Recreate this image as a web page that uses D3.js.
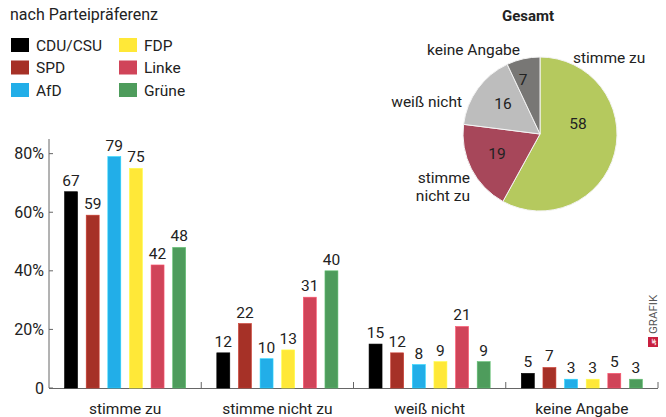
<!DOCTYPE html>
<html><head><meta charset="utf-8">
<script src="https://cdn.jsdelivr.net/npm/d3@7"></script>
<style>body{margin:0;background:#fff}svg{display:block}text{font-family:Roboto,"Liberation Sans",sans-serif}</style>
</head><body><svg id="c" width="666" height="417"></svg>
<script>
const categories = ["stimme zu","stimme nicht zu","weiß nicht","keine Angabe"];
const parties = ["CDU/CSU","SPD","AfD","FDP","Linke","Grüne"];
const partyColors = ["#000000","#a63127","#22aee8","#ffe838","#d04459","#4e9c5c"];
const cduValues = [67,12,15,5];
const spdValues = [59,22,12,7];
const afdValues = [79,10,8,3];
const fdpValues = [75,13,9,3];
const linkeValues = [42,31,21,5];
const grueneValues = [48,40,9,3];
const yTicks = [0,20,40,60,80];
const pieLabels = ["stimme zu","stimme nicht zu","weiß nicht","keine Angabe"];
const pieValues = [58,19,16,7];
const pieColors = ["#b5c95e","#a7475a","#bdbdbd","#787775"];

const series = [cduValues,spdValues,afdValues,fdpValues,linkeValues,grueneValues];
const svg = d3.select("#c");
const x0 = d3.scaleBand().domain(categories).range([49,658]);
const x1 = d3.scaleBand().domain(parties).range([0,x0.bandwidth()]).paddingInner(0.4).paddingOuter(0.72);
const y = d3.scaleLinear().domain([0,85]).range([388,139]);

// y axis
const ya = svg.append("g").attr("transform","translate(49,0)");
ya.append("line").attr("y1",y(85)).attr("y2",y(0)).attr("stroke","#666").attr("stroke-width",1);
yTicks.forEach(t=>{
  ya.append("line").attr("x1",0).attr("x2",4).attr("y1",y(t)).attr("y2",y(t)).attr("stroke","#666");
  ya.append("text").attr("x",-5).attr("y",y(t)).attr("dy","0.35em").attr("text-anchor","end")
    .attr("font-size",16).attr("fill","#222").text(t===0?"0":t+"%");
});
// baseline
svg.append("line").attr("x1",49).attr("x2",658).attr("y1",y(0)+0.5).attr("y2",y(0)+0.5).attr("stroke","#666");
categories.forEach((c,i)=>{
  const xe = x0(c)+x0.bandwidth();
  svg.append("line").attr("x1",xe).attr("x2",xe).attr("y1",y(0)).attr("y2",y(0)-6).attr("stroke","#666");
  svg.append("text").attr("x",x0(c)+x0.bandwidth()/2).attr("y",414).attr("text-anchor","middle")
    .attr("font-size",15.5).attr("fill","#222").text(c);
});
// bars
categories.forEach((c,ci)=>{
  parties.forEach((p,pi)=>{
    const v = series[pi][ci];
    const bx = x0(c)+x1(p);
    svg.append("rect").attr("x",bx).attr("y",y(v)).attr("width",x1.bandwidth()).attr("height",y(0)-y(v))
      .attr("fill",partyColors[pi]).attr("stroke",d3.color(partyColors[pi]).brighter(0.6)).attr("stroke-width",0.6);
    svg.append("text").attr("x",bx+x1.bandwidth()/2).attr("y",y(v)-6).attr("text-anchor","middle")
      .attr("font-size",15.5).attr("fill","#222").text(v);
  });
});
// legend
svg.append("text").attr("x",10).attr("y",20).attr("font-size",16).attr("fill","#222").text("nach Parteipräferenz");
parties.forEach((p,i)=>{
  const col = Math.floor(i/3), row = i%3;
  const lx = 11+col*108, ly = 38+row*22.5;
  svg.append("rect").attr("x",lx).attr("y",ly).attr("width",18).attr("height",14).attr("fill",partyColors[i]);
  svg.append("text").attr("x",lx+25).attr("y",ly+12.5).attr("font-size",15.5).attr("fill","#222").text(p);
});
// pie
const pg = svg.append("g").attr("transform","translate(540,134)");
const arcs = d3.pie().sort(null)(pieValues);
const arc = d3.arc().innerRadius(0).outerRadius(77);
pg.selectAll("path").data(arcs).join("path").attr("d",arc).attr("fill",(d,i)=>pieColors[i])
  .attr("stroke","#f4f4f4").attr("stroke-width",1);
const valPos = [[38,-10],[-43,20],[-37,-30],[-17,-54]];
arcs.forEach((a,i)=>{
  pg.append("text").attr("x",valPos[i][0]).attr("y",valPos[i][1]).attr("dy","0.35em").attr("text-anchor","middle")
    .attr("font-size",15.5).attr("fill","#222").text(pieValues[i]);
});
svg.append("text").attr("x",528).attr("y",21).attr("text-anchor","middle").attr("font-size",15).attr("font-weight","bold").attr("fill","#222").text("Gesamt");
const lbl = [[573,63,"start",[pieLabels[0]]],[470,183,"end",["stimme","nicht zu"]],[462,107,"end",[pieLabels[2]]],[520,55,"end",[pieLabels[3]]]];
lbl.forEach(l=>{
  const t = svg.append("text").attr("x",l[0]).attr("y",l[1]).attr("text-anchor",l[2]).attr("font-size",15.5).attr("fill","#222");
  l[3].forEach((s,k)=>t.append("tspan").attr("x",l[0]).attr("dy",k?18:0).text(s));
});
// logo
const lg = svg.append("g").attr("transform","translate(657,347) rotate(-90)");
lg.append("rect").attr("x",0).attr("y",-9).attr("width",10).attr("height",10).attr("fill","#c8203f");
lg.append("text").attr("x",5).attr("y",-1.5).attr("text-anchor","middle").attr("font-size",6).attr("font-weight","bold").attr("fill","#fff").text("JF");
lg.append("text").attr("x",13).attr("y",0).attr("font-size",11.5).attr("fill","#555").text("GRAFIK");
</script></body></html>
